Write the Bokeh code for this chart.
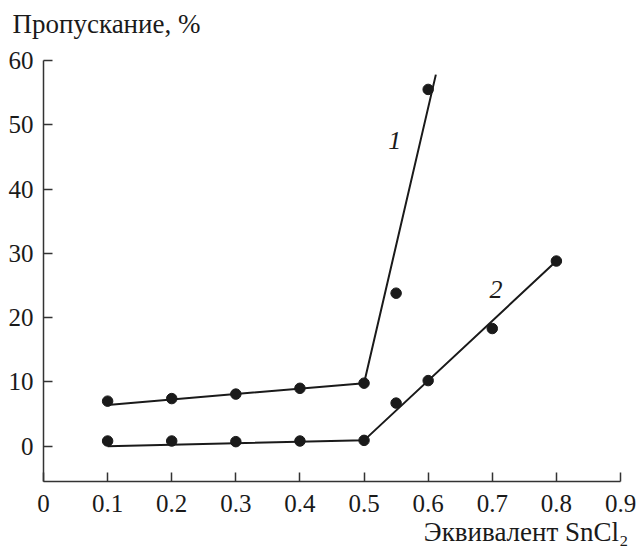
from bokeh.plotting import figure
from bokeh.models import Range1d, Label, FixedTicker, Title
from bokeh.embed import file_html
from bokeh.resources import INLINE

# Measured points
x_pts = [0.1, 0.2, 0.3, 0.4, 0.5, 0.55, 0.6]
y1_pts = [7.0, 7.4, 8.1, 9.0, 9.8, 23.8, 55.5]
x2_pts = [0.1, 0.2, 0.3, 0.4, 0.5, 0.55, 0.6, 0.7, 0.8]
y2_pts = [0.8, 0.8, 0.7, 0.8, 0.9, 6.7, 10.2, 18.3, 28.8]

# Fitted lines (break-point segments)
fit1_x = [0.1, 0.5, 0.612]
fit1_y = [6.4, 9.8, 57.8]
fit2_x = [0.1, 0.5, 0.8]
fit2_y = [0.0, 0.9, 28.8]

x_ticks = [0, 0.1, 0.2, 0.3, 0.4, 0.5, 0.6, 0.7, 0.8, 0.9]
x_tick_labels = ["0", "0.1", "0.2", "0.3", "0.4", "0.5", "0.6", "0.7", "0.8", "0.9"]
y_ticks = [0, 10, 20, 30, 40, 50, 60]

FONT = "Liberation Serif"
INK = "#1a1a1a"

p = figure(width=636, height=546, output_backend="svg", toolbar_location=None,
           x_range=Range1d(0, 0.9), y_range=Range1d(-5.5, 60),
           min_border_left=43, min_border_right=16, min_border_top=60,
           min_border_bottom=65)
p.outline_line_color = None
p.grid.visible = False
p.background_fill_color = "white"

for ax in (p.xaxis[0], p.yaxis[0]):
    ax.axis_line_color = "#333333"
    ax.axis_line_width = 1.5
    ax.major_tick_line_color = "#333333"
    ax.major_tick_line_width = 1.5
    ax.major_tick_in = 9
    ax.major_tick_out = 0
    ax.minor_tick_line_color = None
    ax.major_label_text_font = FONT
    ax.major_label_text_font_size = "25px"
    ax.major_label_text_color = INK

p.xaxis[0].ticker = FixedTicker(ticks=x_ticks)
p.yaxis[0].ticker = FixedTicker(ticks=y_ticks)
p.xaxis[0].major_label_overrides = dict(zip(x_ticks, x_tick_labels))
p.xaxis[0].major_label_standoff = 13
p.yaxis[0].major_label_standoff = 10

p.line(fit1_x, fit1_y, line_color=INK, line_width=2)
p.line(fit2_x, fit2_y, line_color=INK, line_width=2)
p.scatter(x_pts, y1_pts, size=10.5, fill_color=INK, line_color=INK)
p.scatter(x2_pts, y2_pts, size=10.5, fill_color=INK, line_color=INK)

p.add_layout(Label(x=0.548, y=47.6, text="1", text_font=FONT, text_font_style="italic",
                   text_font_size="26px", text_align="center", text_baseline="middle",
                   text_color=INK))
p.add_layout(Label(x=0.706, y=24.3, text="2", text_font=FONT, text_font_style="italic",
                   text_font_size="26px", text_align="center", text_baseline="middle",
                   text_color=INK))

# spacer panel between the frame and the y-title
spacer = Title(text=" ", text_font=FONT, text_font_size="17px", standoff=1)
p.add_layout(spacer, "above")

p.title.text = "Пропускание, %"
p.title.text_font = FONT
p.title.text_font_size = "27px"
p.title.text_font_style = "normal"
p.title.text_color = INK
p.title.align = "left"
p.title.offset = -31
p.title.standoff = 0

xt = Title(text="Эквивалент SnCl₂", text_font=FONT, text_font_size="27px",
           text_font_style="normal", text_color=INK, align="right", offset=-8, standoff=0)
p.add_layout(xt, "below")

open("out.html", "w").write(file_html(p, INLINE))
